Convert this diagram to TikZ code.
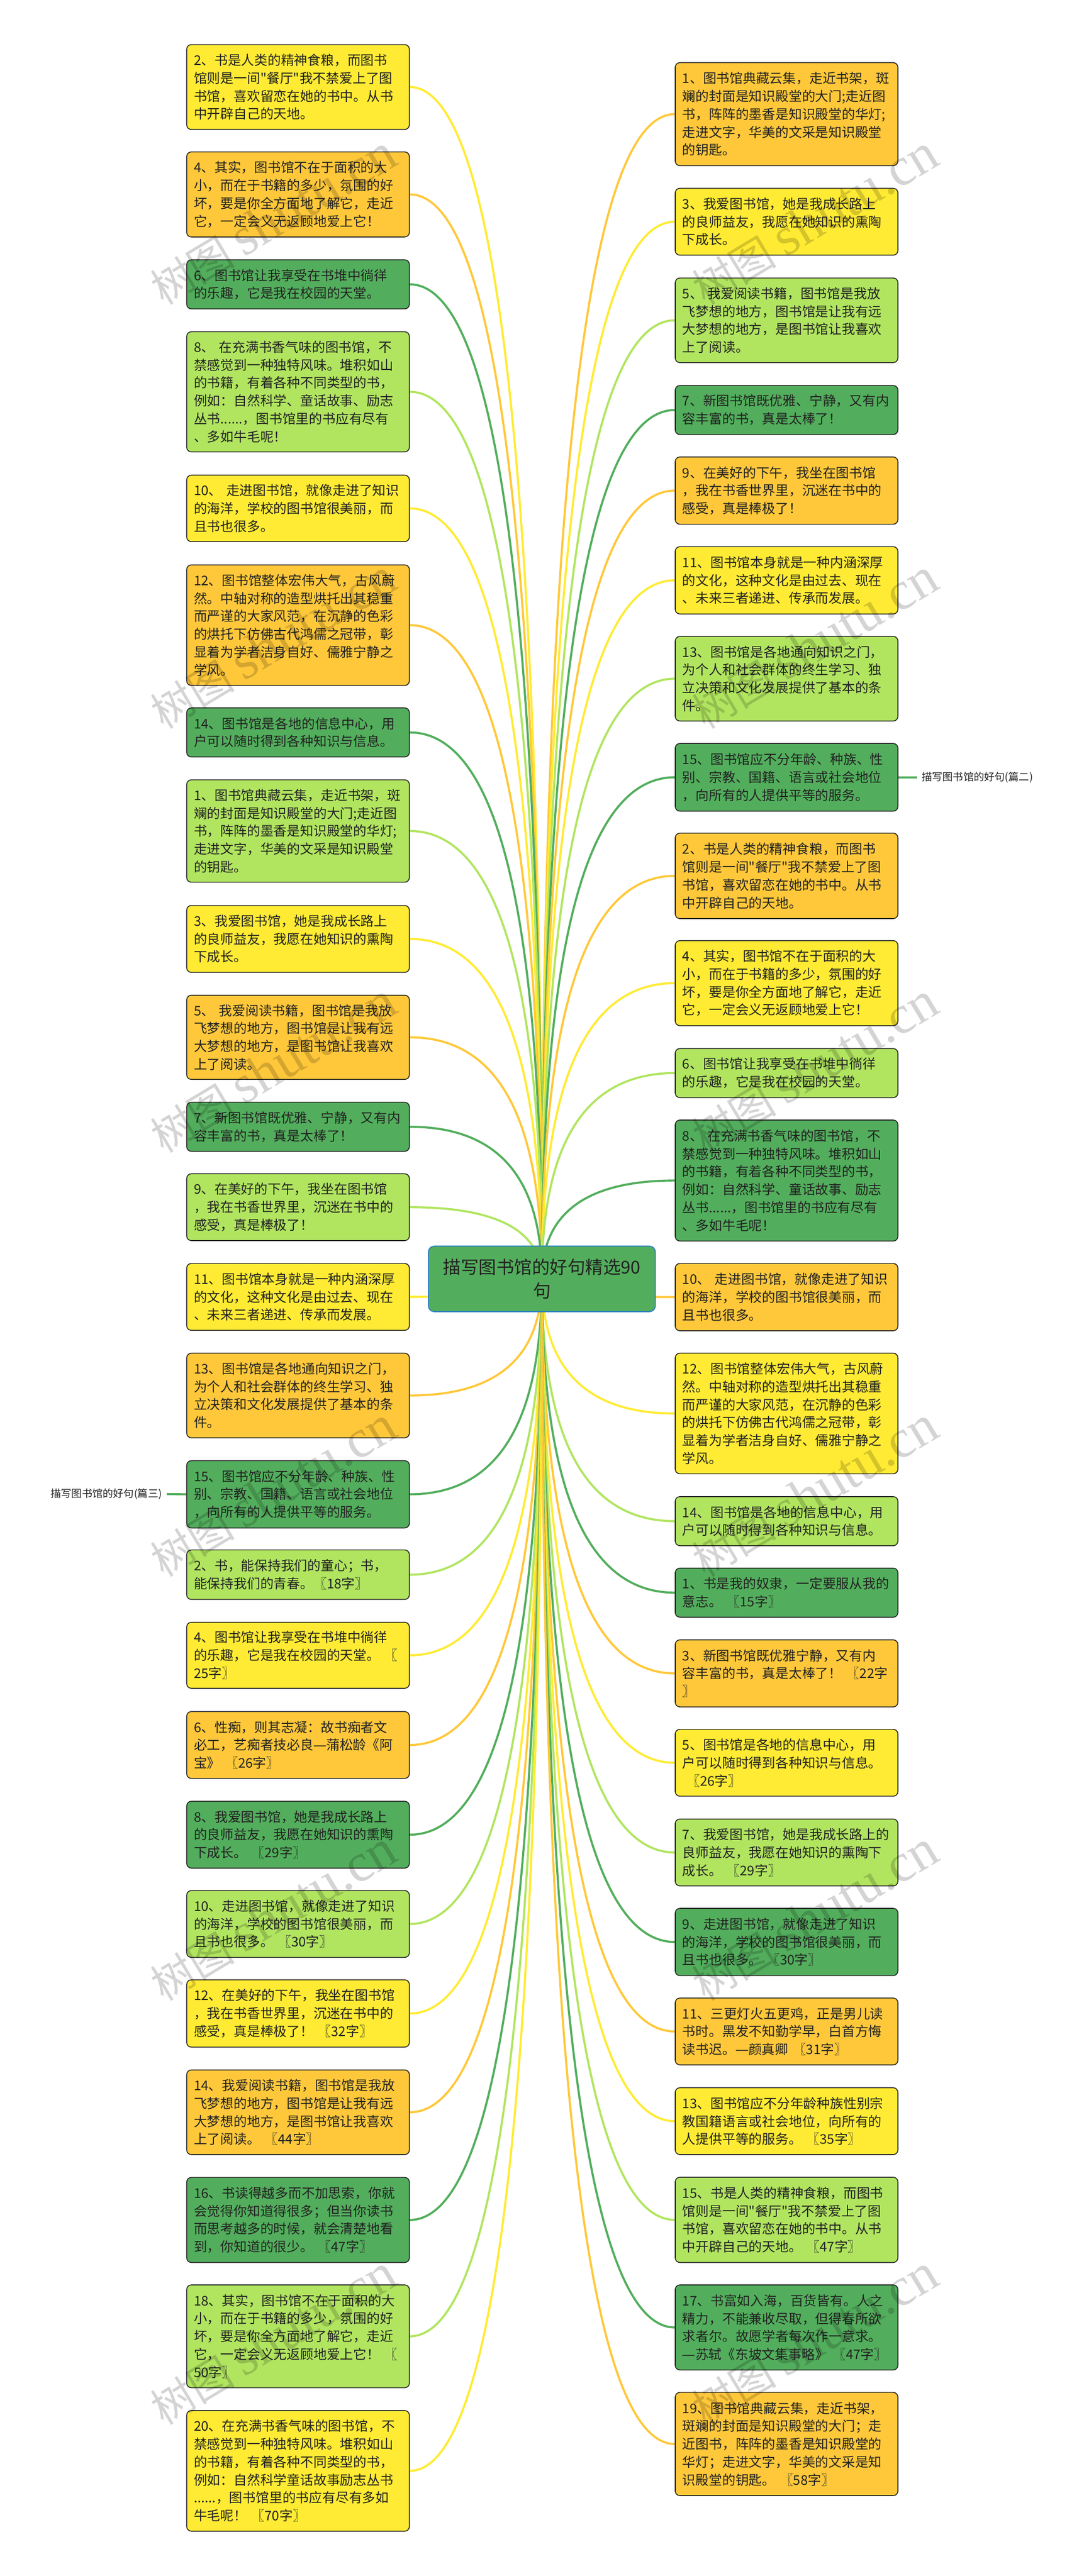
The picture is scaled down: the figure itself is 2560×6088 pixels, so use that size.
\documentclass[tikz,border=0pt]{standalone}
\usepackage{fontspec}
\newfontfamily\cjkmain{Noto Sans CJK SC}
\newfontfamily\dashfont[FakeStretch=0.58]{Noto Sans CJK SC}
\newfontfamily\wmlat{Liberation Serif}
\usetikzlibrary{calc,backgrounds}
\definecolor{cy}{HTML}{FFEB33}
\definecolor{co}{HTML}{FFC83A}
\definecolor{cg}{HTML}{52AE5C}
\definecolor{cl}{HTML}{B1E560}
\definecolor{ink}{HTML}{222222}
\definecolor{rootline}{HTML}{2F7FC8}
\tikzset{
  leaf/.style={rectangle,rounded corners=5.5pt,draw=ink,line width=1pt,text=ink,
    text width=246pt,inner xsep=8.5pt,inner ysep=0pt,align=left,anchor=west,
    font=\cjkmain\fontsize{15.7}{21.15}\selectfont},
  rootbox/.style={rectangle,rounded corners=7pt,draw=rootline,fill=cg,line width=1.2pt,text=ink,
    minimum width=268pt,minimum height=77.5pt,inner sep=0pt,align=center,
    font=\cjkmain\fontsize{21}{28.5}\selectfont},
  edge/.style={line width=2.5pt},
  sidelabel/.style={text=ink,inner sep=5.5pt,font=\cjkmain\fontsize{12.3}{15}\selectfont},
  wmark/.style={text=black,opacity=0.17,rotate=31,inner sep=0pt}
}
\newcommand{\mmbox}[6]{\node[leaf,fill=#2,minimum height={(#5-#4)*0.5pt}] (#1) at (#3,{(#4+#5)/2}) {#6};}
\newcommand{\dd}{{\dashfont ——}}
% full-width punctuation as control symbols
\def\|{\char"FF0C\relax}
\def\:{\char"FF1A\relax}
\def\;{\char"FF1B\relax}
\def\!{\char"FF01\relax}
% repeated texts
\newcommand{\tA}{2、书是人类的精神食粮\|而图书\\馆则是一间"餐厅"我不禁爱上了图\\书馆\|喜欢留恋在她的书中。从书\\中开辟自己的天地。}
\newcommand{\tB}{4、其实\|图书馆不在于面积的大\\小\|而在于书籍的多少\|氛围的好\\坏\|要是你全方面地了解它\|走近\\它\|一定会义无返顾地爱上它\!}
\newcommand{\tC}{6、图书馆让我享受在书堆中徜徉\\的乐趣\|它是我在校园的天堂。}
\newcommand{\tD}{8、~在充满书香气味的图书馆\|不\\禁感觉到一种独特风味。堆积如山\\的书籍\|有着各种不同类型的书\|\\例如\:自然科学、童话故事、励志\\丛书......\|图书馆里的书应有尽有\\、多如牛毛呢\!}
\newcommand{\tE}{10、~走进图书馆\|就像走进了知识\\的海洋\|学校的图书馆很美丽\|而\\且书也很多。}
\newcommand{\tF}{12、图书馆整体宏伟大气\|古风蔚\\然。中轴对称的造型烘托出其稳重\\而严谨的大家风范\|在沉静的色彩\\的烘托下仿佛古代鸿儒之冠带\|彰\\显着为学者洁身自好、儒雅宁静之\\学风。}
\newcommand{\tG}{14、图书馆是各地的信息中心\|用\\户可以随时得到各种知识与信息。}
\newcommand{\tH}{1、图书馆典藏云集\|走近书架\|斑\\斓的封面是知识殿堂的大门;走近图\\书\|阵阵的墨香是知识殿堂的华灯;\\走进文字\|华美的文采是知识殿堂\\的钥匙。}
\newcommand{\tI}{3、我爱图书馆\|她是我成长路上\\的良师益友\|我愿在她知识的熏陶\\下成长。}
\newcommand{\tJ}{5、~我爱阅读书籍\|图书馆是我放\\飞梦想的地方\|图书馆是让我有远\\大梦想的地方\|是图书馆让我喜欢\\上了阅读。}
\newcommand{\tK}{7、新图书馆既优雅、宁静\|又有内\\容丰富的书\|真是太棒了\!}
\newcommand{\tL}{9、在美好的下午\|我坐在图书馆\\\|我在书香世界里\|沉迷在书中的\\感受\|真是棒极了\!}
\newcommand{\tM}{11、图书馆本身就是一种内涵深厚\\的文化\|这种文化是由过去、现在\\、未来三者递进、传承而发展。}
\newcommand{\tN}{13、图书馆是各地通向知识之门\|\\为个人和社会群体的终生学习、独\\立决策和文化发展提供了基本的条\\件。}
\newcommand{\tO}{15、图书馆应不分年龄、种族、性\\别、宗教、国籍、语言或社会地位\\\|向所有的人提供平等的服务。}
\begin{document}
\begin{tikzpicture}[x=0.5pt,y=-0.5pt]
\path[use as bounding box] (0,0) rectangle (2560,6088);
\node[rootbox] (root) at (1280,3022.5) {描写图书馆的好句精选90\\句};
% left column
\mmbox{L1}{cy}{440}{105.5}{306}{\tA}
\mmbox{L2}{co}{440}{359}{560}{\tB}
\mmbox{L3}{cg}{440}{614}{730}{\tC}
\mmbox{L4}{cl}{440}{784}{1068}{\tD}
\mmbox{L5}{cy}{440}{1123}{1280}{\tE}
\mmbox{L6}{co}{440}{1335}{1620}{\tF}
\mmbox{L7}{cg}{440}{1673}{1789}{\tG}
\mmbox{L8}{cl}{440}{1843}{2085}{\tH}
\mmbox{L9}{cy}{440}{2140}{2298}{\tI}
\mmbox{L10}{co}{440}{2352}{2551}{\tJ}
\mmbox{L11}{cg}{440}{2605}{2721}{\tK}
\mmbox{L12}{cl}{440}{2774}{2932}{\tL}
\mmbox{L13}{cy}{440}{2986}{3144}{\tM}
\mmbox{L14}{co}{440}{3198}{3398}{\tN}
\mmbox{L15}{cg}{440}{3452}{3611}{\tO}
\mmbox{L16}{cl}{440}{3663}{3780}{2、书\|能保持我们的童心\;书\|\\能保持我们的青春。〖18字〗}
\mmbox{L17}{cy}{440}{3834}{3990}{4、图书馆让我享受在书堆中徜徉\\的乐趣\|它是我在校园的天堂。~〖\\25字〗}
\mmbox{L18}{co}{440}{4045}{4203}{6、性痴\|则其志凝\:故书痴者文\\必工\|艺痴者技必良\dd 蒲松龄《阿\\宝》~〖26字〗}
\mmbox{L19}{cg}{440}{4257}{4415}{8、我爱图书馆\|她是我成长路上\\的良师益友\|我愿在她知识的熏陶\\下成长。~〖29字〗}
\mmbox{L20}{cl}{440}{4468}{4626}{10、走进图书馆\|就像走进了知识\\的海洋\|学校的图书馆很美丽\|而\\且书也很多。~〖30字〗}
\mmbox{L21}{cy}{440}{4679}{4838}{12、在美好的下午\|我坐在图书馆\\\|我在书香世界里\|沉迷在书中的\\感受\|真是棒极了\!~〖32字〗}
\mmbox{L22}{co}{440}{4892}{5092}{14、我爱阅读书籍\|图书馆是我放\\飞梦想的地方\|图书馆是让我有远\\大梦想的地方\|是图书馆让我喜欢\\上了阅读。~〖44字〗}
\mmbox{L23}{cg}{440}{5146}{5347}{16、书读得越多而不加思索\|你就\\会觉得你知道得很多\;但当你读书\\而思考越多的时候\|就会清楚地看\\到\|你知道的很少。~〖47字〗}
\mmbox{L24}{cl}{440}{5400}{5643}{18、其实\|图书馆不在于面积的大\\小\|而在于书籍的多少\|氛围的好\\坏\|要是你全方面地了解它\|走近\\它\|一定会义无返顾地爱上它\!~〖\\50字〗}
\mmbox{L25}{cy}{440}{5697}{5982}{20、在充满书香气味的图书馆\|不\\禁感觉到一种独特风味。堆积如山\\的书籍\|有着各种不同类型的书\|\\例如\:自然科学童话故事励志丛书\\......\|图书馆里的书应有尽有多如\\牛毛呢\!~〖70字〗}
% right column
\mmbox{R1}{co}{1594}{148}{391.5}{\tH}
\mmbox{R2}{cy}{1594}{445}{603}{\tI}
\mmbox{R3}{cl}{1594}{657}{857}{\tJ}
\mmbox{R4}{cg}{1594}{911}{1027}{\tK}
\mmbox{R5}{co}{1594}{1080}{1239}{\tL}
\mmbox{R6}{cy}{1594}{1292}{1451}{\tM}
\mmbox{R7}{cl}{1594}{1504}{1704}{\tN}
\mmbox{R8}{cg}{1594}{1757}{1917}{\tO}
\mmbox{R9}{co}{1594}{1969}{2171}{\tA}
\mmbox{R10}{cy}{1594}{2223}{2424}{\tB}
\mmbox{R11}{cl}{1594}{2478}{2594}{\tC}
\mmbox{R12}{cg}{1594}{2647}{2933}{\tD}
\mmbox{R13}{co}{1594}{2986}{3145}{\tE}
\mmbox{R14}{cy}{1594}{3198}{3483}{\tF}
\mmbox{R15}{cl}{1594}{3537}{3653}{\tG}
\mmbox{R16}{cg}{1594}{3706}{3822}{1、书是我的奴隶\|一定要服从我的\\意志。~〖15字〗}
\mmbox{R17}{co}{1594}{3875.5}{4034}{3、新图书馆既优雅宁静\|又有内\\容丰富的书\|真是太棒了\!~〖22字\\〗}
\mmbox{R18}{cy}{1594}{4087}{4245}{5、图书馆是各地的信息中心\|用\\户可以随时得到各种知识与信息。\\~〖26字〗}
\mmbox{R19}{cl}{1594}{4299}{4457}{7、我爱图书馆\|她是我成长路上的\\良师益友\|我愿在她知识的熏陶下\\成长。~〖29字〗}
\mmbox{R20}{cg}{1594}{4510}{4669}{9、走进图书馆\|就像走进了知识\\的海洋\|学校的图书馆很美丽\|而\\且书也很多。~〖30字〗}
\mmbox{R21}{co}{1594}{4722}{4880}{11、三更灯火五更鸡\|正是男儿读\\书时。黑发不知勤学早\|白首方悔\\读书迟。\dd 颜真卿~〖31字〗}
\mmbox{R22}{cy}{1594}{4934}{5092}{13、图书馆应不分年龄种族性别宗\\教国籍语言或社会地位\|向所有的\\人提供平等的服务。~〖35字〗}
\mmbox{R23}{cl}{1594}{5145.5}{5347}{15、书是人类的精神食粮\|而图书\\馆则是一间"餐厅"我不禁爱上了图\\书馆\|喜欢留恋在她的书中。从书\\中开辟自己的天地。~〖47字〗}
\mmbox{R24}{cg}{1594}{5400}{5601}{17、书富如入海\|百货皆有。人之\\精力\|不能兼收尽取\|但得春所欲\\求者尔。故愿学者每次作一意求。\\\dd 苏轼《东坡文集事略》~〖47字〗}
\mmbox{R25}{co}{1594}{5654}{5898}{19、图书馆典藏云集\|走近书架\|\\斑斓的封面是知识殿堂的大门\;走\\近图书\|阵阵的墨香是知识殿堂的\\华灯\;走进文字\|华美的文采是知\\识殿堂的钥匙。~〖58字〗}
% side labels
\node[sidelabel,anchor=west] (lab2) at (2166,1837) {描写图书馆的好句(篇二)};
\node[sidelabel,anchor=east] (lab3) at (394,3531) {描写图书馆的好句(篇三)};
% connectors
\begin{pgfonlayer}{background}
\fill[white] (0,0) rectangle (2560,6088);
\foreach \n/\c in {L1/cy,L2/co,L3/cg,L4/cl,L5/cy,L6/co,L7/cg,L8/cl,L9/cy,L10/co,L11/cg,L12/cl,L13/cy,L14/co,L15/cg,L16/cl,L17/cy,L18/co,L19/cg,L20/cl,L21/cy,L22/co,L23/cg,L24/cl,L25/cy}
  \draw[edge,draw=\c] (\n.east) .. controls ($(\n.east)!2/3!(\n.east -| root.center)$) and ($(root.center)!2/3!(\n.east -| root.center)$) .. (root.center);
\foreach \n/\c in {R1/co,R2/cy,R3/cl,R4/cg,R5/co,R6/cy,R7/cl,R8/cg,R9/co,R10/cy,R11/cl,R12/cg,R13/co,R14/cy,R15/cl,R16/cg,R17/co,R18/cy,R19/cl,R20/cg,R21/co,R22/cy,R23/cl,R24/cg,R25/co}
  \draw[edge,draw=\c] (\n.west) .. controls ($(\n.west)!2/3!(\n.west -| root.center)$) and ($(root.center)!2/3!(\n.west -| root.center)$) .. (root.center);
\draw[edge,draw=cg] (R8.east) -- (lab2.west);
\draw[edge,draw=cg] (L15.west) -- (lab3.east);
\end{pgfonlayer}
% watermarks
\foreach \k in {0,...,5}{
  \node[wmark] (wml\k) at (645,{520+1002*\k}) {\cjkmain\fontsize{50}{50}\selectfont 树图~\wmlat\fontsize{64}{64}\selectfont shutu.cn};
  \node[wmark] (wmr\k) at (1925,{520+1002*\k}) {\cjkmain\fontsize{50}{50}\selectfont 树图~\wmlat\fontsize{64}{64}\selectfont shutu.cn};
}
\end{tikzpicture}
\end{document}
